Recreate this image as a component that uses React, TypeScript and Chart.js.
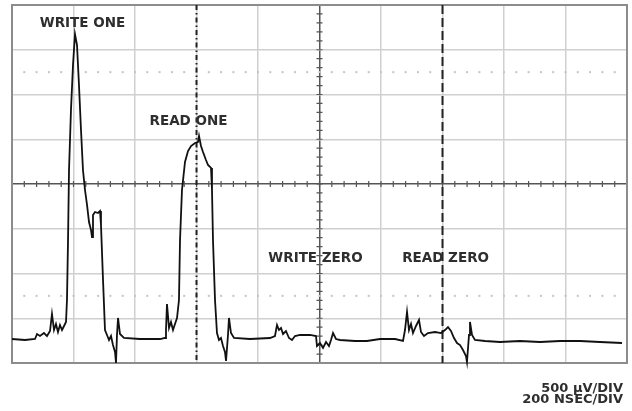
import React, { useEffect, useRef } from "react";
import { Chart, registerables } from "chart.js";

Chart.register(...registerables);

// Oscilloscope trace, in screen divisions (10 horizontal x 8 vertical)
const TIME_DIV = [
  0, 0.211, 0.374, 0.407, 0.455, 0.52, 0.569, 0.618, 0.65, 0.683, 0.715, 0.748, 0.78, 0.813, 0.846, 0.878,
  0.894, 0.911, 0.927, 0.959, 0.992, 1.024, 1.057, 1.089, 1.122, 1.154, 1.187, 1.22, 1.252, 1.285, 1.301,
  1.317, 1.35, 1.398, 1.431, 1.447, 1.48, 1.512, 1.545, 1.577, 1.61, 1.642, 1.675, 1.691, 1.707, 1.724,
  1.756, 1.821, 2.081, 2.407, 2.488, 2.504, 2.52, 2.553, 2.585, 2.618, 2.65, 2.683, 2.715, 2.732, 2.764,
  2.813, 2.862, 2.911, 2.976, 3.024, 3.041, 3.073, 3.106, 3.154, 3.187, 3.236, 3.252, 3.268, 3.301, 3.333,
  3.366, 3.398, 3.431, 3.463, 3.48, 3.512, 3.528, 3.561, 3.61, 3.87, 4.195, 4.276, 4.309, 4.341, 4.374,
  4.407, 4.455, 4.504, 4.553, 4.602, 4.683, 4.846, 4.943, 4.959, 5.008, 5.057, 5.106, 5.154, 5.187, 5.22,
  5.268, 5.333, 5.577, 5.772, 5.984, 6.228, 6.358, 6.39, 6.423, 6.455, 6.488, 6.52, 6.569, 6.618, 6.65,
  6.699, 6.764, 6.878, 6.976, 7.041, 7.089, 7.138, 7.187, 7.236, 7.285, 7.333, 7.382, 7.398, 7.431, 7.447,
  7.48, 7.528, 7.691, 7.935, 8.26, 8.585, 8.911, 9.236, 9.561, 9.919,
];
const SIGNAL_DIV = [
  0.536, 0.514, 0.536, 0.648, 0.603, 0.67, 0.603, 0.715, 1.095, 0.737, 0.872, 0.693, 0.849, 0.737, 0.827, 0.916,
  1.408, 2.749, 4.313, 5.654, 6.659, 7.352, 7.106, 6.212, 5.207, 4.313, 3.866, 3.531, 3.151, 2.972, 2.816,
  3.307, 3.374, 3.352, 3.397, 3.084, 1.855, 0.737, 0.626, 0.514, 0.603, 0.402, 0.246, 0, 0.626, 1.006,
  0.648, 0.559, 0.536, 0.536, 0.559, 0.737, 1.318, 0.782, 0.916, 0.737, 0.872, 1.006, 1.408, 2.749, 3.866,
  4.492, 4.737, 4.849, 4.916, 4.939, 5.073, 4.849, 4.715, 4.536, 4.425, 4.358, 3.866, 2.749, 1.408, 0.67,
  0.514, 0.559, 0.38, 0.246, 0.045, 0.626, 1.006, 0.67, 0.559, 0.536, 0.559, 0.603, 0.849, 0.737, 0.782,
  0.648, 0.715, 0.559, 0.514, 0.603, 0.626, 0.626, 0.603, 0.38, 0.447, 0.335, 0.469, 0.38, 0.514, 0.67,
  0.536, 0.514, 0.492, 0.492, 0.536, 0.536, 0.492, 0.737, 1.14, 0.737, 0.872, 0.67, 0.827, 0.961, 0.693,
  0.603, 0.67, 0.693, 0.67, 0.737, 0.804, 0.715, 0.559, 0.447, 0.402, 0.291, 0.156, 0.022, 0.626, 0.916,
  0.626, 0.514, 0.492, 0.469, 0.492, 0.469, 0.492, 0.492, 0.469, 0.447,
];

const X_DIVISIONS = 10;
const Y_DIVISIONS = 8;
const TRIGGER_MARKERS = [3, 7];
const DOTTED_ROWS = [1.5, 6.5];

const EVENT_LABELS = ["WRITE ONE", "READ ONE", "WRITE ZERO", "READ ZERO"];
const EVENT_LABEL_X = [1.146, 2.87, 4.935, 7.05];
const EVENT_LABEL_Y = [7.58, 5.4, 2.335, 2.335];
const SCALE_NOTES = ["500 \u00b5V/DIV", "200 NSEC/DIV"];

export default function App() {
  const ref = useRef<HTMLCanvasElement | null>(null);

  useEffect(() => {
    if (!ref.current) return;
    const font = '"DejaVu Sans", sans-serif';

    const scopePlugin = {
      id: "scope",
      beforeDatasetsDraw(chart: any) {
        const { ctx, chartArea } = chart;
        const xs = chart.scales.x;
        const ys = chart.scales.y;
        ctx.save();
        // dotted rows
        ctx.fillStyle = "#c4c4c4";
        DOTTED_ROWS.forEach((r) => {
          const py = ys.getPixelForValue(r);
          for (let v = 0.2; v < X_DIVISIONS; v += 0.2) {
            const px = xs.getPixelForValue(v);
            ctx.fillRect(px - 1, py - 1, 2, 2);
          }
        });
        // center cross minor ticks
        ctx.strokeStyle = "#555";
        ctx.lineWidth = 1.2;
        const cy = ys.getPixelForValue(Y_DIVISIONS / 2);
        const cx = xs.getPixelForValue(X_DIVISIONS / 2);
        ctx.beginPath();
        for (let v = 0.2; v < X_DIVISIONS; v += 0.2) {
          const px = xs.getPixelForValue(v);
          ctx.moveTo(px, cy - 3);
          ctx.lineTo(px, cy + 3);
        }
        for (let v = 0.2; v < Y_DIVISIONS; v += 0.2) {
          const py = ys.getPixelForValue(v);
          ctx.moveTo(cx - 3, py);
          ctx.lineTo(cx + 3, py);
        }
        ctx.stroke();
        // outer box
        ctx.strokeStyle = "#8c8c8c";
        ctx.lineWidth = 2;
        ctx.strokeRect(chartArea.left, chartArea.top, chartArea.right - chartArea.left, chartArea.bottom - chartArea.top);
        // trigger marker lines
        const patterns = [[5, 3, 1.5, 3], [9, 4]];
        TRIGGER_MARKERS.forEach((m, i) => {
          const px = xs.getPixelForValue(m);
          ctx.strokeStyle = "#222";
          ctx.lineWidth = 2;
          ctx.setLineDash(patterns[i]);
          ctx.beginPath();
          ctx.moveTo(px, chartArea.top);
          ctx.lineTo(px, chartArea.bottom);
          ctx.stroke();
        });
        ctx.setLineDash([]);
        ctx.restore();
      },
      afterDatasetsDraw(chart: any) {
        const { ctx, chartArea } = chart;
        const xs = chart.scales.x;
        const ys = chart.scales.y;
        ctx.save();
        ctx.fillStyle = "#2e2e2e";
        ctx.font = `bold 13.5px ${font}`;
        ctx.textAlign = "center";
        ctx.textBaseline = "middle";
        EVENT_LABELS.forEach((t, i) => {
          ctx.fillText(t, xs.getPixelForValue(EVENT_LABEL_X[i]), ys.getPixelForValue(EVENT_LABEL_Y[i]));
        });
        ctx.font = `bold 13px ${font}`;
        ctx.textAlign = "right";
        ctx.textBaseline = "alphabetic";
        SCALE_NOTES.forEach((t, i) => {
          ctx.fillText(t, chartArea.right - 4, chartArea.bottom + 29 + i * 11);
        });
        ctx.restore();
      },
    };

    const gridColor = (max: number) => (c: any) => {
      const v = c.tick ? c.tick.value : -1;
      if (v === max / 2) return "#555";
      if (v === 0 || v === max) return "#8c8c8c";
      return "#d0d0d0";
    };

    const chart = new Chart(ref.current, {
      type: "line",
      data: {
        datasets: [
          {
            data: TIME_DIV.map((x, i) => ({ x, y: SIGNAL_DIV[i] })),
            borderColor: "#111",
            borderWidth: 1.8,
            pointRadius: 0,
            tension: 0,
            fill: false,
            clip: false as any,
          },
        ],
      },
      options: {
        responsive: false,
        animation: false,
        layout: { padding: { left: 12, top: 5, right: 5, bottom: 48 } },
        plugins: { legend: { display: false }, tooltip: { enabled: false } },
        scales: {
          x: {
            type: "linear",
            min: 0,
            max: X_DIVISIONS,
            ticks: { display: false, stepSize: 1 },
            grid: { color: gridColor(X_DIVISIONS), lineWidth: 1.5, drawTicks: false },
            border: { display: false },
          },
          y: {
            type: "linear",
            min: 0,
            max: Y_DIVISIONS,
            ticks: { display: false, stepSize: 1 },
            grid: { color: gridColor(Y_DIVISIONS), lineWidth: 1.5, drawTicks: false },
            border: { display: false },
          },
        },
      },
      plugins: [scopePlugin],
    });
    return () => chart.destroy();
  }, []);

  return (
    <div style={{ position: "absolute", left: 0, top: 0, width: 632, height: 411, background: "#fff" }}>
      <canvas ref={ref} width={632} height={411} />
    </div>
  );
}
